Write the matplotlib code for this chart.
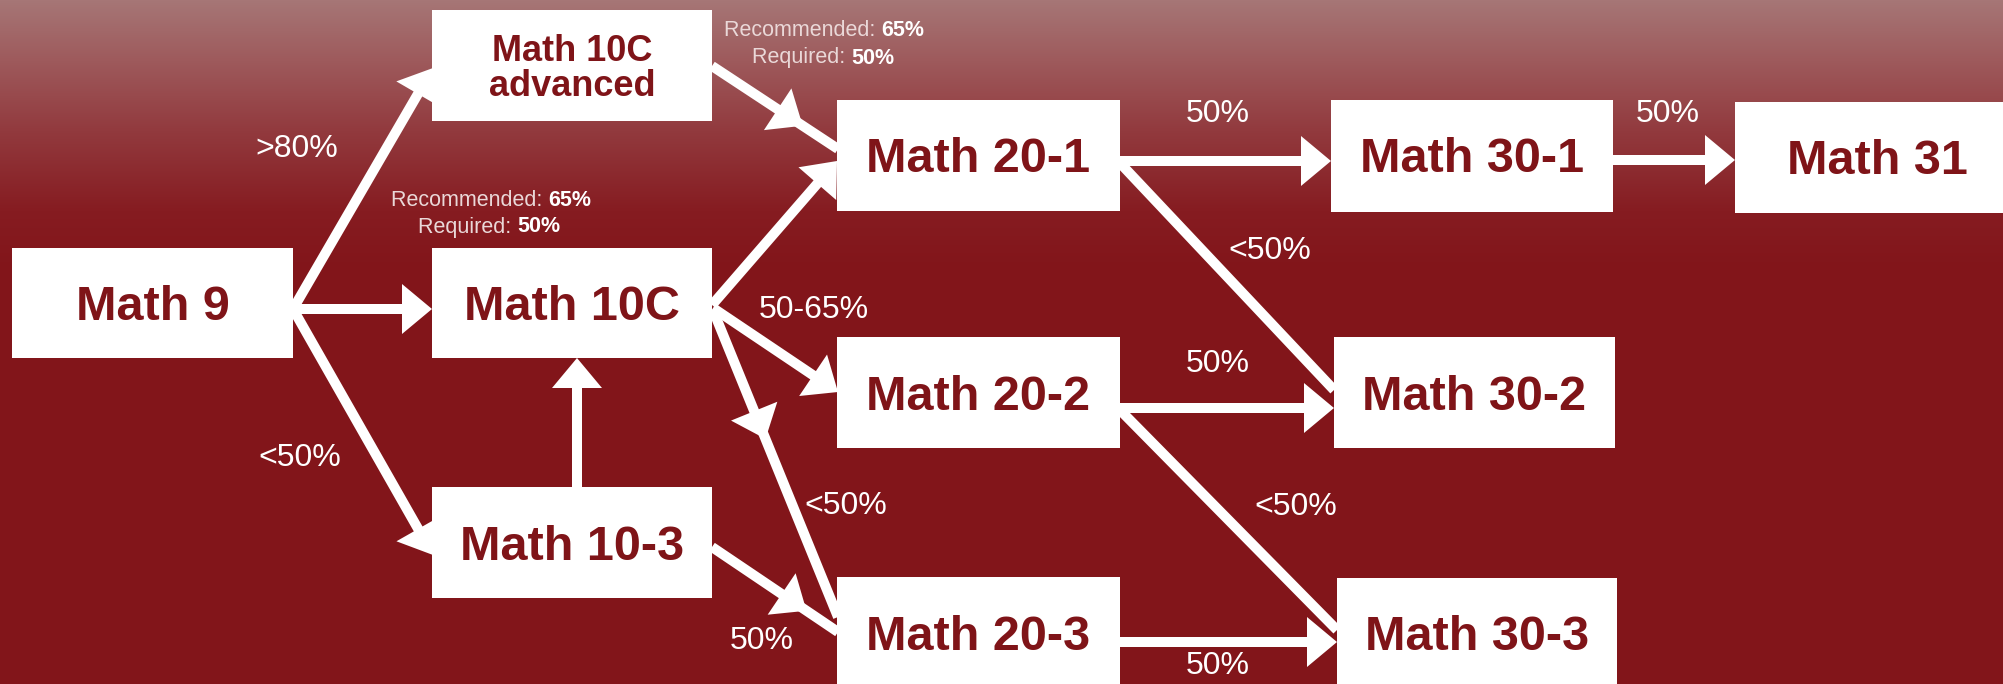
import numpy as np
import matplotlib
matplotlib.use("Agg")
import matplotlib.pyplot as plt
from matplotlib.patches import Rectangle

# --- data -------------------------------------------------------------
courses = ["Math 9", "Math 10C advanced", "Math 10C", "Math 10-3",
           "Math 20-1", "Math 20-2", "Math 20-3",
           "Math 30-1", "Math 30-2", "Math 30-3", "Math 31"]

edge_from = ["Math 9", "Math 9", "Math 9", "Math 10-3",
             "Math 10C advanced", "Math 10C", "Math 10C", "Math 10C", "Math 10-3",
             "Math 20-1", "Math 20-1", "Math 20-2", "Math 20-2", "Math 20-3",
             "Math 30-1"]
edge_to = ["Math 10C advanced", "Math 10C", "Math 10-3", "Math 10C",
           "Math 20-1", "Math 20-1", "Math 20-2", "Math 20-3", "Math 20-3",
           "Math 30-1", "Math 30-2", "Math 30-2", "Math 30-3", "Math 30-3",
           "Math 31"]
edge_labels = [">80%", "", "<50%", "",
               "", "", "50-65%", "<50%", "50%",
               "50%", "<50%", "50%", "<50%", "50%",
               "50%"]

note_recommended = "65%"
note_required = "50%"

# --- layout (pixels, y down) -----------------------------------------
box = {
    "Math 9": (12, 248, 281, 110),
    "Math 10C advanced": (432, 10, 280, 111),
    "Math 10C": (432, 248, 280, 110),
    "Math 10-3": (432, 487, 280, 111),
    "Math 20-1": (837, 100, 283, 111),
    "Math 20-2": (837, 337, 283, 111),
    "Math 20-3": (837, 577, 283, 130),
    "Math 30-1": (1331, 100, 282, 112),
    "Math 30-2": (1334, 337, 281, 111),
    "Math 30-3": (1337, 578, 280, 130),
    "Math 31": (1735, 102, 285, 111),
}

# start, end, where the head sits along the segment (None = no head)
geom = [
    ((293, 309), (433, 68), 1.0),
    ((293, 309), (432, 309), 1.0),
    ((293, 309), (433, 555), 1.0),
    ((577, 487), (577, 358), 1.0),
    ((712, 66), (838, 149), 0.72),
    ((712, 305), (837, 161), 1.0),
    ((713, 308), (838, 392), 1.0),
    ((713, 310), (838, 617), 0.42),
    ((712, 547), (838, 632), 0.75),
    ((1120, 161), (1331, 161), 1.0),
    ((1120, 163), (1334, 390), None),
    ((1120, 408), (1334, 408), 1.0),
    ((1120, 410), (1337, 630), None),
    ((1120, 642), (1337, 642), 1.0),
    ((1613, 160), (1735, 160), 1.0),
]
label_pos = [(297, 149), None, (300, 458), None,
             None, None, (814, 310), (846, 506), (762, 641),
             (1218, 114), (1270, 251), (1218, 364), (1296, 507), (1218, 666),
             (1668, 114)]

W, H = 2003, 684
DARK = "#7f1418"
FONT = "Liberation Sans"

fig = plt.figure(figsize=(W / 100, H / 100), dpi=100)
ax = fig.add_axes([0, 0, 1, 1])
ax.set_xlim(0, W)
ax.set_ylim(H, 0)
ax.axis("off")

# background gradient
stops_y = [0, 60, 130, 210, 270, H]
stops_c = np.array([[166, 118, 118], [158, 90, 92], [146, 58, 62],
                    [134, 28, 33], [130, 21, 26], [130, 21, 26]]) / 255
rows = np.arange(H)
grad = np.stack([np.interp(rows, stops_y, stops_c[:, k]) for k in range(3)], axis=1)
grad = np.repeat(grad[:, None, :], 8, axis=1)
ax.imshow(grad, extent=[0, W, H, 0], aspect="auto", zorder=0)

# arrows
LW = 10
for (s, e, h), lab, lp in zip(geom, edge_labels, label_pos):
    s = np.array(s, float)
    e = np.array(e, float)
    if h is None:
        ax.plot([s[0], e[0]], [s[1], e[1]], color="white", lw=LW * 0.72,
                solid_capstyle="butt", zorder=2)
    else:
        tip = s + (e - s) * h
        ax.arrow(s[0], s[1], tip[0] - s[0], tip[1] - s[1], width=LW,
                 head_width=50, head_length=30, length_includes_head=True,
                 color="white", lw=0, zorder=2)
        if h < 1.0:
            ax.plot([tip[0] - (e - s)[0] * 0.05, e[0]],
                    [tip[1] - (e - s)[1] * 0.05, e[1]], color="white",
                    lw=LW * 0.72, solid_capstyle="butt", zorder=2)
    if lab:
        ax.text(lp[0], lp[1], lab, color="white", fontsize=23, family=FONT,
                ha="center", va="center", zorder=4)

# boxes
for c in courses:
    x, y, w, hh = box[c]
    ax.add_patch(Rectangle((x, y), w, hh, facecolor="white", edgecolor="none", zorder=3))
    cx = x + w / 2
    if c == "Math 10C advanced":
        ax.text(cx, 61, "Math 10C", color=DARK, fontsize=26, weight="bold",
                family=FONT, ha="center", va="baseline", zorder=4)
        ax.text(cx, 96, "advanced", color=DARK, fontsize=26, weight="bold",
                family=FONT, ha="center", va="baseline", zorder=4)
    else:
        cy = y + 55
        ax.text(cx, cy + 17.5, c, color=DARK, fontsize=35, weight="bold",
                family=FONT, ha="center", va="baseline", zorder=4)

# recommended / required notes
for split1, split2, y1, y2 in [(881, 851, 31, 58), (548, 517, 200, 227)]:
    ax.text(split1, y1, "Recommended: ", color="#ead8d8", fontsize=15.5,
            family=FONT, ha="right", va="center", zorder=4)
    ax.text(split1, y1, note_recommended, color="white", fontsize=15.5,
            weight="bold", family=FONT, ha="left", va="center", zorder=4)
    ax.text(split2, y2, "Required: ", color="#ead8d8", fontsize=15.5,
            family=FONT, ha="right", va="center", zorder=4)
    ax.text(split2, y2, note_required, color="white", fontsize=15.5,
            weight="bold", family=FONT, ha="left", va="center", zorder=4)

fig.savefig("out.png", dpi=100)
